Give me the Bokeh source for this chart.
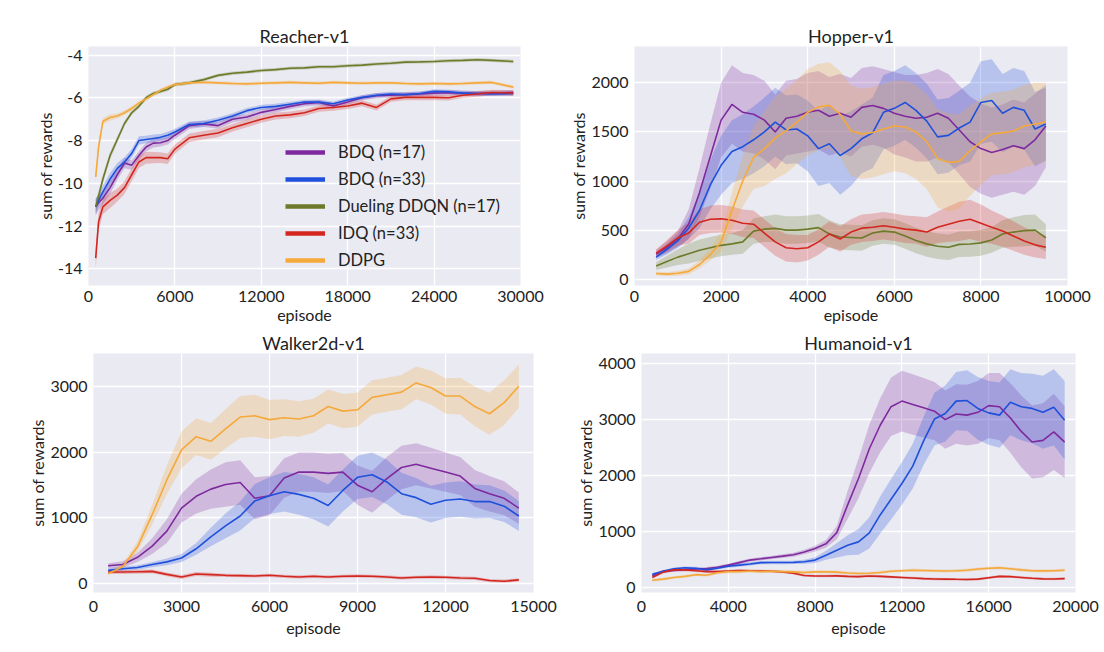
from bokeh.plotting import figure
from bokeh.layouts import column, row
from bokeh.models import Range1d, FixedTicker, Legend, LegendItem
from bokeh.embed import file_html
from bokeh.resources import INLINE

FONT = "Lato"
TXT = "#222222"
BG = "#EAEAF2"

labels = ["BDQ (n=17)", "BDQ (n=33)", "Dueling DDQN (n=17)", "IDQ (n=33)", "DDPG"]
colors = ["#7e2a9e", "#1f50dc", "#6c7a2a", "#d3261f", "#f4a93a"]

# ---------------- Reacher-v1 ----------------
reacher_x = [500, 700, 1000, 1500, 2000, 2500, 3000, 3500, 4000, 4500, 5000, 5500, 6000,
             7000, 8000, 9000, 10000, 11000, 12000, 13000, 14000, 15000, 16000, 17000, 18000,
             19000, 20000, 21000, 22000, 23000, 24000, 25000, 26000, 27000, 28000, 29500]
reacher_bdq17 = [-11.1, -10.9, -10.7, -10.2, -9.6, -9.05, -9.15, -8.7, -8.3, -8.12, -8.1, -8.0, -7.75,
                 -7.3, -7.22, -7.3, -7.0, -6.9, -6.68, -6.55, -6.4, -6.28, -6.22, -6.38, -6.2,
                 -6.0, -5.9, -5.88, -5.85, -5.82, -5.78, -5.76, -5.78, -5.8, -5.78, -5.75]
reacher_bdq33 = [-11.1, -10.8, -10.4, -9.8, -9.3, -9.0, -8.6, -8.0, -7.95, -7.9, -7.85, -7.75, -7.6,
                 -7.25, -7.2, -7.05, -6.85, -6.6, -6.45, -6.4, -6.3, -6.2, -6.2, -6.28, -6.1,
                 -5.98, -5.88, -5.82, -5.85, -5.8, -5.7, -5.72, -5.78, -5.8, -5.82, -5.8]
reacher_dueling = [-11.1, -10.6, -9.8, -8.7, -7.95, -7.2, -6.7, -6.4, -6.0, -5.8, -5.7, -5.6, -5.38,
                   -5.3, -5.15, -4.95, -4.85, -4.8, -4.72, -4.68, -4.62, -4.6, -4.55, -4.55, -4.5,
                   -4.47, -4.42, -4.38, -4.33, -4.32, -4.3, -4.27, -4.25, -4.22, -4.25, -4.3]
reacher_idq = [-13.5, -11.8, -11.1, -10.8, -10.55, -10.2, -9.6, -9.0, -8.8, -8.8, -8.8, -8.85, -8.4,
               -7.87, -7.75, -7.65, -7.4, -7.2, -7.0, -6.85, -6.8, -6.7, -6.5, -6.45, -6.38,
               -6.25, -6.45, -6.05, -5.98, -5.98, -5.98, -6.0, -5.88, -5.82, -5.75, -5.78]
reacher_ddpg = [-9.7, -8.3, -7.1, -6.92, -6.85, -6.7, -6.5, -6.25, -6.05, -5.85, -5.65, -5.5, -5.38,
                -5.3, -5.27, -5.3, -5.33, -5.35, -5.32, -5.3, -5.28, -5.3, -5.32, -5.28, -5.3,
                -5.32, -5.3, -5.3, -5.33, -5.35, -5.33, -5.35, -5.33, -5.3, -5.28, -5.5]
reacher_bdq17_sd = [0.4, 0.35, 0.3, 0.3, 0.25, 0.25, 0.22, 0.2, 0.2, 0.2, 0.18, 0.18, 0.18,
                    0.16, 0.15, 0.15, 0.15, 0.14, 0.14, 0.14, 0.13, 0.13, 0.13, 0.13, 0.12,
                    0.12, 0.12, 0.12, 0.12, 0.12, 0.12, 0.12, 0.12, 0.12, 0.12, 0.12]
reacher_bdq33_sd = [0.35, 0.3, 0.3, 0.28, 0.25, 0.22, 0.2, 0.2, 0.18, 0.18, 0.16, 0.16, 0.15,
                    0.14, 0.14, 0.13, 0.13, 0.12, 0.12, 0.12, 0.11, 0.11, 0.11, 0.11, 0.1,
                    0.1, 0.1, 0.1, 0.1, 0.1, 0.1, 0.1, 0.1, 0.1, 0.1, 0.1]
reacher_dueling_sd = [0.3, 0.25, 0.2, 0.18, 0.15, 0.12, 0.1, 0.1, 0.1, 0.1, 0.09, 0.09, 0.09,
                      0.09, 0.08, 0.08, 0.08, 0.08, 0.08, 0.08, 0.08, 0.08, 0.08, 0.08, 0.08,
                      0.08, 0.08, 0.08, 0.08, 0.08, 0.08, 0.08, 0.08, 0.08, 0.08, 0.08]
reacher_idq_sd = [0.5, 0.4, 0.35, 0.35, 0.3, 0.3, 0.3, 0.28, 0.28, 0.26, 0.25, 0.25, 0.22,
                  0.2, 0.2, 0.2, 0.18, 0.18, 0.17, 0.16, 0.16, 0.15, 0.15, 0.15, 0.14,
                  0.14, 0.14, 0.14, 0.13, 0.13, 0.13, 0.13, 0.13, 0.13, 0.13, 0.13]
reacher_ddpg_sd = [0.3, 0.25, 0.15, 0.15, 0.12, 0.12, 0.1, 0.1, 0.1, 0.09, 0.09, 0.09, 0.09,
                   0.08, 0.08, 0.08, 0.08, 0.08, 0.08, 0.08, 0.08, 0.08, 0.08, 0.08, 0.08,
                   0.08, 0.08, 0.08, 0.08, 0.08, 0.08, 0.08, 0.08, 0.08, 0.08, 0.08]

# ---------------- Hopper-v1 ----------------
hopper_x = [500, 750, 1000, 1250, 1500, 1750, 2000, 2250, 2500, 2750, 3000, 3250, 3500,
            3750, 4000, 4250, 4500, 4750, 5000, 5250, 5500, 5750, 6000, 6250, 6500,
            6750, 7000, 7250, 7500, 7750, 8000, 8250, 8500, 8750, 9000, 9250, 9500]
hopper_bdq17 = [255, 325, 410, 560, 880, 1250, 1620, 1780, 1700, 1680, 1620, 1500, 1640,
                1660, 1700, 1720, 1660, 1690, 1650, 1750, 1770, 1740, 1690, 1660, 1640,
                1650, 1690, 1640, 1520, 1400, 1330, 1290, 1320, 1360, 1330, 1420, 1560]
hopper_bdq33 = [225, 305, 390, 520, 700, 960, 1160, 1300, 1350, 1420, 1500, 1600, 1520,
                1530, 1460, 1330, 1380, 1260, 1330, 1430, 1490, 1700, 1740, 1800, 1720,
                1610, 1450, 1465, 1540, 1600, 1800, 1820, 1690, 1750, 1720, 1530, 1580]
hopper_dueling = [135, 180, 225, 260, 295, 320, 345, 360, 380, 490, 510, 518, 500,
                  500, 510, 525, 460, 430, 425, 420, 470, 490, 480, 440, 395,
                  360, 335, 325, 355, 358, 370, 400, 460, 480, 495, 500, 420]
hopper_idq = [265, 340, 420, 470, 580, 610, 615, 600, 570, 560, 470, 380, 320,
              310, 320, 380, 460, 410, 480, 520, 530, 545, 530, 510, 500,
              480, 530, 560, 590, 610, 570, 530, 490, 440, 390, 350, 325]
hopper_ddpg = [58, 52, 60, 80, 150, 250, 380, 700, 1000, 1240, 1330, 1440, 1510,
               1600, 1700, 1755, 1770, 1680, 1510, 1480, 1495, 1530, 1560, 1550, 1500,
               1400, 1230, 1190, 1200, 1310, 1400, 1480, 1490, 1510, 1560, 1580, 1600]
hopper_bdq17_sd = [40, 60, 80, 150, 250, 330, 380, 400, 400, 400, 400, 380, 380,
                   380, 400, 400, 400, 400, 400, 400, 400, 400, 420, 420, 440,
                   450, 450, 450, 450, 460, 460, 460, 460, 470, 470, 470, 420]
hopper_bdq33_sd = [30, 50, 70, 110, 180, 250, 300, 320, 330, 340, 350, 350, 350,
                   350, 360, 380, 400, 400, 380, 350, 360, 380, 380, 380, 380,
                   380, 380, 380, 380, 400, 420, 420, 400, 400, 400, 380, 370]
hopper_dueling_sd = [40, 60, 80, 100, 110, 110, 110, 110, 120, 130, 130, 140, 140,
                     140, 140, 140, 140, 130, 130, 130, 130, 130, 130, 130, 130,
                     130, 130, 130, 130, 130, 130, 130, 140, 150, 160, 160, 140]
hopper_idq_sd = [40, 60, 80, 110, 130, 140, 140, 140, 140, 140, 140, 140, 140,
                 140, 130, 130, 130, 130, 130, 140, 140, 140, 140, 140, 140,
                 150, 160, 180, 200, 200, 190, 170, 160, 150, 140, 130, 120]
hopper_ddpg_sd = [20, 20, 25, 30, 40, 60, 100, 180, 260, 320, 380, 420, 430,
                  430, 440, 440, 440, 440, 460, 460, 460, 460, 460, 470, 480,
                  480, 500, 500, 480, 460, 440, 420, 420, 420, 420, 420, 400]

# ---------------- Walker2d-v1 ----------------
walker_x = [500, 1000, 1500, 2000, 2500, 3000, 3500, 4000, 4500, 5000, 5500, 6000, 6500, 7000,
            7500, 8000, 8500, 9000, 9500, 10000, 10500, 11000, 11500, 12000, 12500, 13000,
            13500, 14000, 14500]
walker_bdq17 = [270, 290, 400, 570, 800, 1150, 1330, 1440, 1510, 1540, 1300, 1340, 1610, 1700,
                1700, 1680, 1700, 1500, 1400, 1600, 1770, 1820, 1760, 1700, 1640, 1450,
                1370, 1300, 1150]
walker_bdq33 = [200, 225, 245, 290, 330, 390, 530, 710, 880, 1030, 1260, 1340, 1400, 1360,
                1300, 1190, 1420, 1620, 1660, 1550, 1370, 1310, 1210, 1270, 1290, 1250,
                1250, 1180, 1030]
walker_idq = [175, 175, 180, 185, 140, 100, 145, 135, 125, 120, 115, 125, 110, 100,
              110, 100, 110, 115, 110, 100, 85, 95, 100, 95, 85, 80,
              45, 35, 55]
walker_ddpg = [150, 260, 560, 1050, 1580, 2040, 2240, 2170, 2360, 2540, 2560, 2500, 2530, 2510,
               2560, 2700, 2630, 2650, 2840, 2880, 2920, 3060, 2990, 2860, 2860, 2700,
               2590, 2760, 3010]
walker_bdq17_sd = [40, 50, 70, 120, 180, 220, 260, 300, 340, 340, 320, 300, 300, 300,
                   300, 300, 290, 300, 320, 330, 330, 320, 310, 300, 290, 280,
                   270, 260, 240]
walker_bdq33_sd = [30, 30, 35, 40, 50, 60, 90, 140, 190, 220, 260, 280, 300, 310,
                   320, 320, 320, 330, 340, 340, 320, 300, 280, 270, 270, 260,
                   250, 240, 230]
walker_idq_sd = [30, 30, 30, 30, 30, 30, 30, 30, 25, 25, 25, 25, 25, 25,
                 25, 25, 25, 25, 25, 25, 25, 25, 25, 25, 25, 25,
                 25, 25, 25]
walker_ddpg_sd = [20, 40, 80, 150, 220, 280, 280, 280, 300, 320, 320, 300, 280, 270,
                  260, 260, 260, 260, 260, 260, 260, 250, 260, 270, 280, 300,
                  320, 340, 330]

# ---------------- Humanoid-v1 ----------------
humanoid_x = [500, 1000, 1500, 2000, 2500, 3000, 3500, 4000, 4500, 5000, 5500, 6000, 6500,
              7000, 7500, 8000, 8500, 9000, 9500, 10000, 10500, 11000, 11500, 12000, 12500,
              13000, 13500, 14000, 14500, 15000, 15500, 16000, 16500, 17000, 17500, 18000,
              18500, 19000, 19500]
humanoid_bdq17 = [215, 295, 312, 322, 335, 345, 368, 405, 450, 495, 518, 542, 565,
                  590, 638, 700, 785, 985, 1480, 1950, 2480, 2900, 3230, 3330, 3270,
                  3210, 3150, 3000, 3100, 3080, 3130, 3250, 3230, 3030, 2790, 2600,
                  2630, 2780, 2600]
humanoid_bdq33 = [240, 295, 340, 357, 350, 320, 350, 385, 405, 425, 450, 452, 452,
                  455, 465, 495, 580, 670, 760, 820, 980, 1300, 1580, 1860, 2170,
                  2620, 3010, 3110, 3330, 3340, 3200, 3120, 3080, 3310, 3230, 3200,
                  3130, 3220, 2990]
humanoid_idq = [185, 280, 320, 320, 305, 290, 290, 300, 310, 305, 300, 295, 285,
                260, 220, 210, 212, 214, 205, 200, 210, 205, 195, 185, 175,
                165, 158, 155, 152, 150, 155, 180, 205, 200, 185, 170,
                160, 158, 165]
humanoid_ddpg = [135, 155, 185, 205, 235, 225, 270, 290, 290, 300, 290, 295, 290,
                 285, 275, 285, 285, 280, 265, 256, 260, 275, 295, 305, 315,
                 310, 305, 300, 305, 315, 335, 350, 357, 340, 320, 305,
                 303, 305, 315]
humanoid_bdq17_sd = [25, 25, 25, 25, 25, 25, 25, 25, 30, 30, 30, 30, 35,
                     35, 40, 50, 70, 120, 250, 350, 430, 480, 520, 540, 540,
                     530, 520, 520, 530, 540, 560, 580, 600, 620, 640, 650,
                     660, 680, 640]
humanoid_bdq33_sd = [25, 25, 25, 25, 25, 25, 25, 25, 30, 30, 30, 30, 30,
                     30, 35, 50, 80, 130, 180, 230, 280, 330, 360, 380, 400,
                     430, 470, 500, 520, 540, 560, 570, 580, 590, 600, 620,
                     650, 680, 700]
humanoid_idq_sd = [20, 22, 22, 22, 22, 22, 22, 22, 22, 22, 22, 22, 22,
                   22, 22, 22, 22, 22, 22, 22, 22, 22, 22, 22, 22,
                   22, 22, 22, 22, 22, 22, 22, 22, 22, 22, 22,
                   22, 22, 22]
humanoid_ddpg_sd = [25, 25, 25, 25, 25, 28, 28, 28, 28, 28, 28, 28, 28,
                    28, 28, 28, 28, 28, 28, 28, 28, 28, 28, 28, 28,
                    28, 28, 28, 28, 28, 28, 28, 28, 28, 28, 28,
                    28, 28, 28]

# tick positions
reacher_xticks = [0, 6000, 12000, 18000, 24000, 30000]
reacher_yticks = [-14, -12, -10, -8, -6, -4]
hopper_xticks = [0, 2000, 4000, 6000, 8000, 10000]
hopper_yticks = [0, 500, 1000, 1500, 2000]
walker_xticks = [0, 3000, 6000, 9000, 12000, 15000]
walker_yticks = [0, 1000, 2000, 3000]
humanoid_xticks = [0, 4000, 8000, 12000, 16000, 20000]
humanoid_yticks = [0, 1000, 2000, 3000, 4000]


def panel(title, x, series, xr, yr, xticks, yticks, fw, borders, xstand, legend=False):
    left, right, top, bottom = borders
    p = figure(frame_width=fw, frame_height=239, output_backend="svg", toolbar_location=None,
               x_range=Range1d(*xr), y_range=Range1d(*yr),
               min_border_left=left, min_border_right=right,
               min_border_top=top, min_border_bottom=bottom)
    p.background_fill_color = BG
    p.border_fill_color = "white"
    p.outline_line_color = None
    p.title.text = title
    p.title.align = "center"
    p.title.text_font = FONT
    p.title.text_font_size = "18px"
    p.title.text_font_style = "normal"
    p.title.text_color = TXT
    p.title.standoff = 0
    for ax in (p.xaxis, p.yaxis):
        ax.axis_line_color = None
        ax.major_tick_line_color = None
        ax.minor_tick_line_color = None
        ax.major_tick_out = 0
        ax.major_tick_in = 0
        ax.major_label_text_font = FONT
        ax.major_label_text_font_size = "16px"
        ax.major_label_text_color = TXT
        ax.axis_label_text_font = FONT
        ax.axis_label_text_font_size = "16px"
        ax.axis_label_text_font_style = "normal"
        ax.axis_label_text_color = TXT
    p.xaxis.major_label_standoff = xstand[0]
    p.xaxis.axis_label_standoff = xstand[1]
    p.yaxis.major_label_standoff = 6
    p.yaxis.axis_label_standoff = 0
    p.xaxis.axis_label = "episode"
    p.yaxis.axis_label = "sum of rewards"
    p.xaxis.ticker = FixedTicker(ticks=xticks)
    p.yaxis.ticker = FixedTicker(ticks=yticks)
    p.xaxis.major_label_overrides = {t: str(t) for t in xticks}
    p.yaxis.major_label_overrides = {t: str(t) for t in yticks}
    p.xgrid.ticker = FixedTicker(ticks=xticks)
    p.ygrid.ticker = FixedTicker(ticks=yticks)
    for g in (p.xgrid, p.ygrid):
        g.grid_line_color = "white"
        g.grid_line_width = 1.3
    for idx, mean, sd in series:
        lo = [m - s for m, s in zip(mean, sd)]
        hi = [m + s for m, s in zip(mean, sd)]
        p.varea(x=x, y1=lo, y2=hi, fill_color=colors[idx], fill_alpha=0.25)
    for idx, mean, sd in series:
        p.line(x, mean, line_color=colors[idx], line_width=1.6)
    if legend:
        items = []
        for idx in range(5):
            # off-frame segment used only as the legend swatch
            r = p.line([xr[0] - 2000, xr[0] - 1000], [yr[0], yr[0]],
                       line_color=colors[idx], line_width=4.5)
            items.append(LegendItem(label=labels[idx], renderers=[r]))
        lg = Legend(items=items, location=(197, 15))
        lg.background_fill_alpha = 0
        lg.border_line_alpha = 0
        lg.padding = 0
        lg.margin = 0
        lg.spacing = 7
        lg.glyph_width = 40
        lg.glyph_height = 20
        lg.label_height = 20
        lg.label_standoff = 13
        lg.label_text_font = FONT
        lg.label_text_font_size = "16.5px"
        lg.label_text_color = TXT
        p.add_layout(lg)
    return p


p1 = panel("Reacher-v1", reacher_x,
           [(0, reacher_bdq17, reacher_bdq17_sd), (1, reacher_bdq33, reacher_bdq33_sd),
            (2, reacher_dueling, reacher_dueling_sd), (3, reacher_idq, reacher_idq_sd),
            (4, reacher_ddpg, reacher_ddpg_sd)],
           (0, 30000), (-14.78, -3.6), reacher_xticks, reacher_yticks, 432,
           (88, 40, 46, 44), (5, 0), legend=True)
p2 = panel("Hopper-v1", hopper_x,
           [(0, hopper_bdq17, hopper_bdq17_sd), (1, hopper_bdq33, hopper_bdq33_sd),
            (2, hopper_dueling, hopper_dueling_sd), (3, hopper_idq, hopper_idq_sd),
            (4, hopper_ddpg, hopper_ddpg_sd)],
           (0, 10000), (-64, 2370), hopper_xticks, hopper_yticks, 433,
           (74, 24, 46, 44), (5, 0))
p3 = panel("Walker2d-v1", walker_x,
           [(0, walker_bdq17, walker_bdq17_sd), (1, walker_bdq33, walker_bdq33_sd),
            (3, walker_idq, walker_idq_sd), (4, walker_ddpg, walker_ddpg_sd)],
           (0, 15000), (-137, 3509), walker_xticks, walker_yticks, 440,
           (93, 37, 22, 52), (8, 3))
p4 = panel("Humanoid-v1", humanoid_x,
           [(0, humanoid_bdq17, humanoid_bdq17_sd), (1, humanoid_bdq33, humanoid_bdq33_sd),
            (3, humanoid_idq, humanoid_idq_sd), (4, humanoid_ddpg, humanoid_ddpg_sd)],
           (0, 20000), (-83, 4179), humanoid_xticks, humanoid_yticks, 434,
           (71, 24, 22, 52), (8, 3))

layout = column(row(p1, p2), row(p3, p4))
open("out.html", "w").write(file_html(layout, INLINE))
